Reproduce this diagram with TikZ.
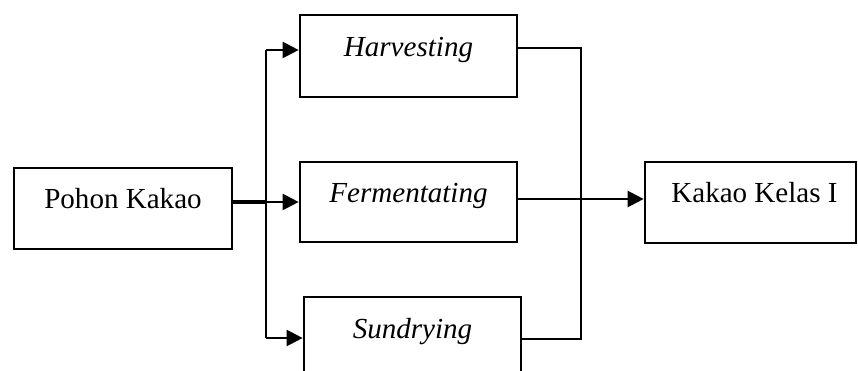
\documentclass[tikz,border=0pt]{standalone}
\usepackage{fontspec}
\setmainfont{Liberation Serif}
\usetikzlibrary{arrows.meta}
\begin{document}
\begin{tikzpicture}[x=0.75pt,y=-0.75pt,
  box/.style={draw, line width=2pt, inner sep=0pt, text height=12pt, text depth=12pt,
    font=\fontsize{21.8}{26}\selectfont},
  conn/.style={line width=1.7pt},
  thickconn/.style={line width=2.7pt},
  thinconn/.style={line width=0.9pt},
  tip/.style={-{Triangle[length=12pt,width=12pt]}}]
\useasboundingbox (0,0) rectangle (858,371);
\clip (0,0) rectangle (858,371);
\fill[white] (0,0) rectangle (858,371);
\node[box, minimum width=163.5pt, minimum height=60.75pt] (pohon) at (123,208.5) {Pohon Kakao};
\node[box, minimum width=162.75pt, minimum height=61.5pt] (harv) at (408.5,56) {\textit{Harvesting}};
\node[box, minimum width=162.75pt, minimum height=60pt] (ferm) at (408.5,202) {\textit{Fermentating}};
\node[box, minimum width=162.75pt, minimum height=61.5pt] (sund) at (412.5,338) {\textit{Sundrying}};
\node[box, minimum width=158.25pt, minimum height=60.75pt] (kakao) at (750.5,202.5) {\hspace{6pt}Kakao Kelas I};
\coordinate (jl) at (266,202);
\coordinate (jt) at (266,50);
\coordinate (jb) at (266,338);
\coordinate (jr) at (581,199);
\coordinate (rt) at (581,48);
\coordinate (rb) at (581,339);
\draw[thickconn] (pohon.east |- jl) -- (jl);
\draw[conn, tip] (jl) -- (jl -| ferm.west);
\draw[conn] (jt) -- (jb);
\draw[conn, tip] (jt) -- (jt -| harv.west);
\draw[conn, tip] (jb) -- (jb -| sund.west);
\draw[conn] (harv.east |- rt) -- (rt) -- (jr);
\draw[thinconn] (ferm.east |- jr) -- (jr);
\draw[thinconn] (sund.east |- rb) -- (rb) -- (jr);
\draw[conn, tip] (jr) -- (jr -| kakao.west);
\end{tikzpicture}
\end{document}
